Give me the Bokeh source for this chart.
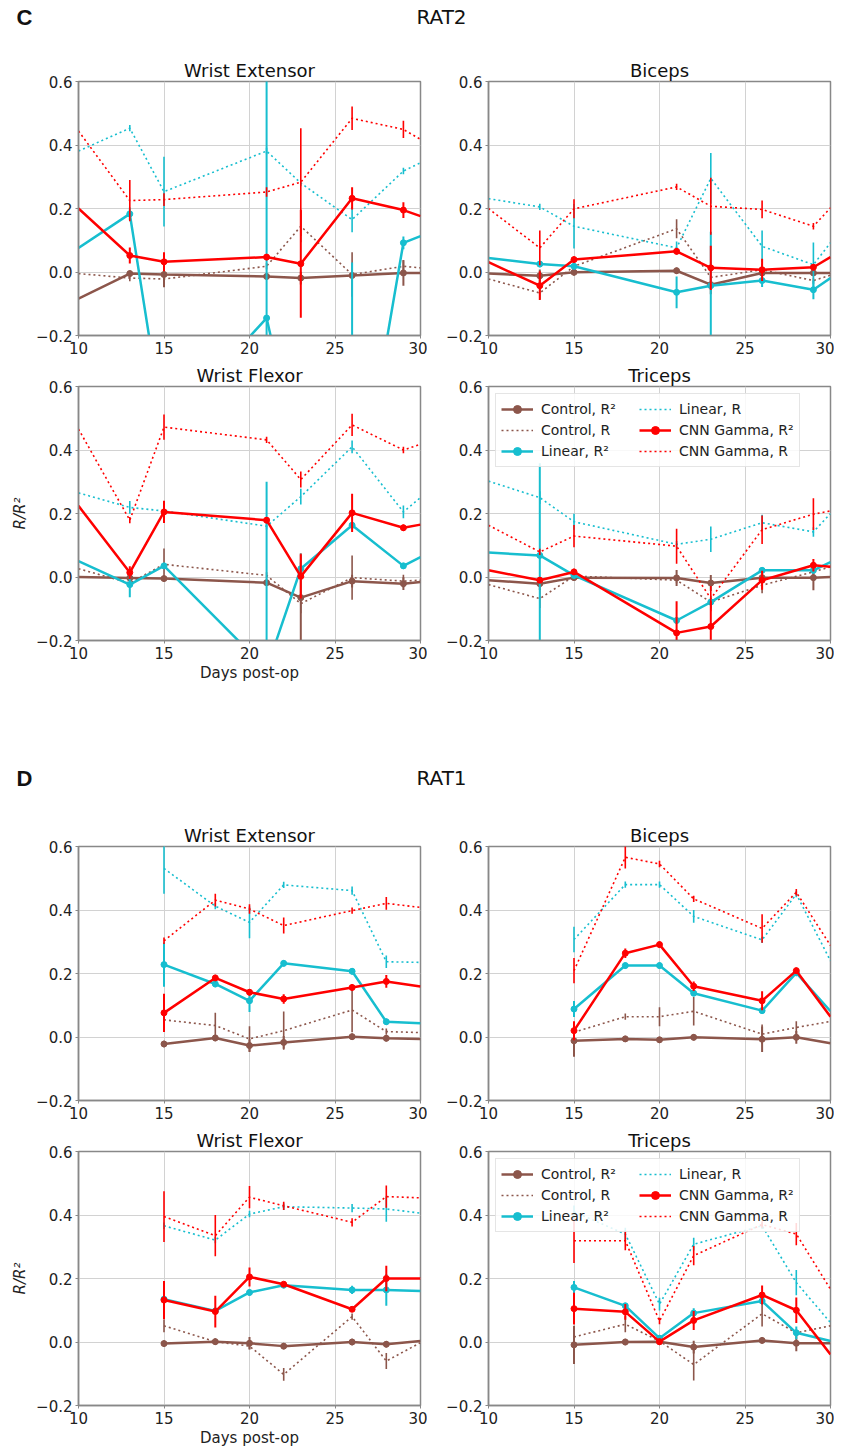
from bokeh.plotting import figure
from bokeh.models import Range1d, FixedTicker, CustomJSTickFormatter, Legend, LegendItem, Label
from bokeh.layouts import column, row
from bokeh.embed import file_html
from bokeh.resources import INLINE

# ---------------- data ----------------
rat2_days = [10, 13, 15, 21, 23, 26, 29, 30]
rat1_days = [15, 18, 20, 22, 26, 28, 30]

series_labels = ["Control, R²", "Control, R", "Linear, R²", "Linear, R", "CNN Gamma, R²", "CNN Gamma, R"]

# RAT2 - Wrist Extensor
rat2_wext_ctrl_r2 = [-0.084, -0.005, -0.008, -0.014, -0.019, -0.011, -0.003, -0.003]
rat2_wext_ctrl_r2_err = [0, 0.01, 0.04, 0.01, 0.02, 0.01, 0.04, 0]
rat2_wext_ctrl_r = [-0.005, -0.019, -0.022, 0.018, 0.144, -0.008, 0.018, 0.013]
rat2_wext_ctrl_r_err = [0, 0.01, 0.01, 0.01, 0.05, 0.07, 0.02, 0]
rat2_wext_lin_r2 = [0.076, 0.183, -0.50, -0.145, -0.62, -0.85, 0.092, 0.113]
rat2_wext_lin_r2_err = [0, 0.02, 0.05, 0.80, 0.10, 0.88, 0.02, 0]
rat2_wext_lin_r = [0.381, 0.453, 0.253, 0.381, 0.28, 0.165, 0.318, 0.344]
rat2_wext_lin_r_err = [0, 0.01, 0.11, 0.01, 0.01, 0.04, 0.01, 0]
rat2_wext_cnn_r2 = [0.2, 0.052, 0.032, 0.047, 0.026, 0.232, 0.195, 0.176]
rat2_wext_cnn_r2_err = [0, 0.025, 0.03, 0.01, 0.17, 0.035, 0.025, 0]
rat2_wext_cnn_r = [0.444, 0.225, 0.228, 0.252, 0.283, 0.484, 0.449, 0.418]
rat2_wext_cnn_r_err = [0, 0.065, 0.02, 0.015, 0.17, 0.037, 0.027, 0]

# RAT2 - Biceps
rat2_bic_ctrl_r2 = [-0.005, -0.012, -0.001, 0.004, -0.04, -0.003, -0.003, -0.003]
rat2_bic_ctrl_r2_err = [0, 0.02, 0.01, 0.01, 0.03, 0.01, 0.01, 0]
rat2_bic_ctrl_r = [-0.022, -0.066, 0.018, 0.136, -0.017, 0.007, -0.027, -0.01]
rat2_bic_ctrl_r_err = [0, 0.02, 0.01, 0.03, 0.02, 0.02, 0.01, 0]
rat2_bic_lin_r2 = [0.044, 0.025, 0.018, -0.064, -0.043, -0.027, -0.056, -0.019]
rat2_bic_lin_r2_err = [0, 0.01, 0.01, 0.05, 0.17, 0.02, 0.03, 0]
rat2_bic_lin_r = [0.231, 0.205, 0.144, 0.076, 0.295, 0.081, 0.023, 0.092]
rat2_bic_lin_r_err = [0, 0.01, 0.07, 0.02, 0.08, 0.05, 0.07, 0]
rat2_bic_cnn_r2 = [0.031, -0.043, 0.039, 0.065, 0.013, 0.007, 0.015, 0.047]
rat2_bic_cnn_r2_err = [0, 0.045, 0.01, 0.01, 0.07, 0.035, 0.01, 0]
rat2_bic_cnn_r = [0.2, 0.076, 0.199, 0.268, 0.207, 0.197, 0.144, 0.202]
rat2_bic_cnn_r_err = [0, 0.055, 0.03, 0.01, 0.09, 0.028, 0.01, 0]

# RAT2 - Wrist Flexor
rat2_wflex_ctrl_r2 = [0.0, -0.003, -0.005, -0.018, -0.065, -0.013, -0.021, -0.016]
rat2_wflex_ctrl_r2_err = [0, 0.01, 0.01, 0.01, 0.14, 0.02, 0.02, 0]
rat2_wflex_ctrl_r = [0.026, -0.019, 0.04, 0.005, -0.084, -0.002, -0.013, -0.01]
rat2_wflex_ctrl_r_err = [0, 0.01, 0.05, 0.01, 0.03, 0.07, 0.02, 0]
rat2_wflex_lin_r2 = [0.05, -0.024, 0.035, -0.29, 0.026, 0.163, 0.035, 0.063]
rat2_wflex_lin_r2_err = [0, 0.04, 0.01, 0.59, 0.02, 0.01, 0.01, 0]
rat2_wflex_lin_r = [0.265, 0.219, 0.208, 0.16, 0.253, 0.41, 0.205, 0.25]
rat2_wflex_lin_r_err = [0, 0.02, 0.01, 0.01, 0.025, 0.02, 0.02, 0]
rat2_wflex_cnn_r2 = [0.224, 0.014, 0.205, 0.179, 0.002, 0.202, 0.155, 0.165]
rat2_wflex_cnn_r2_err = [0, 0.02, 0.035, 0.01, 0.07, 0.06, 0.01, 0]
rat2_wflex_cnn_r = [0.466, 0.179, 0.472, 0.432, 0.307, 0.479, 0.4, 0.418]
rat2_wflex_cnn_r_err = [0, 0.01, 0.04, 0.01, 0.025, 0.035, 0.01, 0]

# RAT2 - Triceps
rat2_tri_ctrl_r2 = [-0.01, -0.021, -0.002, -0.003, -0.019, -0.002, -0.002, 0.0]
rat2_tri_ctrl_r2_err = [0, 0.02, 0.01, 0.025, 0.025, 0.01, 0.04, 0]
rat2_tri_ctrl_r = [-0.024, -0.068, 0.003, -0.01, -0.079, -0.026, 0.016, 0.032]
rat2_tri_ctrl_r_err = [0, 0.03, 0.01, 0.01, 0.02, 0.025, 0.01, 0]
rat2_tri_lin_r2 = [0.077, 0.068, 0.005, -0.137, -0.079, 0.021, 0.021, 0.047]
rat2_tri_lin_r2_err = [0, 0.29, 0.01, 0.01, 0.01, 0.01, 0.01, 0]
rat2_tri_lin_r = [0.302, 0.25, 0.174, 0.103, 0.119, 0.171, 0.142, 0.2]
rat2_tri_lin_r_err = [0, 0.02, 0.025, 0.01, 0.04, 0.025, 0.015, 0]
rat2_tri_cnn_r2 = [0.021, -0.01, 0.016, -0.176, -0.156, -0.01, 0.037, 0.032]
rat2_tri_cnn_r2_err = [0, 0.01, 0.01, 0.1, 0.08, 0.03, 0.02, 0]
rat2_tri_cnn_r = [0.163, 0.079, 0.129, 0.097, -0.068, 0.149, 0.198, 0.208]
rat2_tri_cnn_r_err = [0, 0.01, 0.035, 0.055, 0.04, 0.045, 0.05, 0]

# RAT1 - Wrist Extensor
rat1_wext_ctrl_r2 = [-0.022, -0.003, -0.027, -0.017, 0.001, -0.004, -0.006]
rat1_wext_ctrl_r2_err = [0.01, 0.01, 0.02, 0.02, 0.01, 0.01, 0]
rat1_wext_ctrl_r = [0.054, 0.036, -0.006, 0.02, 0.085, 0.017, 0.014]
rat1_wext_ctrl_r_err = [0.02, 0.04, 0.04, 0.06, 0.07, 0.01, 0]
rat1_wext_lin_r2 = [0.228, 0.167, 0.114, 0.232, 0.207, 0.048, 0.043]
rat1_wext_lin_r2_err = [0.07, 0.01, 0.035, 0.01, 0.01, 0.01, 0]
rat1_wext_lin_r = [0.531, 0.412, 0.361, 0.479, 0.461, 0.237, 0.235]
rat1_wext_lin_r_err = [0.08, 0.01, 0.05, 0.01, 0.013, 0.02, 0]
rat1_wext_cnn_r2 = [0.076, 0.186, 0.141, 0.12, 0.156, 0.175, 0.159]
rat1_wext_cnn_r2_err = [0.06, 0.01, 0.01, 0.015, 0.01, 0.02, 0]
rat1_wext_cnn_r = [0.303, 0.431, 0.403, 0.351, 0.398, 0.421, 0.408]
rat1_wext_cnn_r_err = [0.01, 0.02, 0.015, 0.025, 0.01, 0.02, 0]

# RAT1 - Biceps
rat1_bic_ctrl_r2 = [-0.012, -0.006, -0.009, -0.001, -0.007, -0.001, -0.02]
rat1_bic_ctrl_r2_err = [0.05, 0.01, 0.01, 0.01, 0.04, 0.02, 0]
rat1_bic_ctrl_r = [0.015, 0.064, 0.064, 0.081, 0.009, 0.03, 0.049]
rat1_bic_ctrl_r_err = [0.01, 0.01, 0.03, 0.045, 0.03, 0.02, 0]
rat1_bic_lin_r2 = [0.088, 0.225, 0.225, 0.138, 0.083, 0.202, 0.081]
rat1_bic_lin_r2_err = [0.025, 0.01, 0.01, 0.01, 0.01, 0.01, 0]
rat1_bic_lin_r = [0.307, 0.48, 0.48, 0.38, 0.306, 0.45, 0.24]
rat1_bic_lin_r_err = [0.04, 0.01, 0.01, 0.02, 0.01, 0.01, 0]
rat1_bic_cnn_r2 = [0.02, 0.264, 0.291, 0.16, 0.114, 0.209, 0.064]
rat1_bic_cnn_r2_err = [0.03, 0.015, 0.01, 0.015, 0.03, 0.01, 0]
rat1_bic_cnn_r = [0.209, 0.566, 0.545, 0.435, 0.342, 0.456, 0.288]
rat1_bic_cnn_r_err = [0.04, 0.035, 0.01, 0.01, 0.045, 0.01, 0]

# RAT1 - Wrist Flexor
rat1_wflex_ctrl_r2 = [-0.005, 0.001, -0.004, -0.013, 0.0, -0.007, 0.003]
rat1_wflex_ctrl_r2_err = [0.01, 0.01, 0.02, 0.01, 0.01, 0.01, 0]
rat1_wflex_ctrl_r = [0.051, 0.001, -0.013, -0.102, 0.08, -0.06, -0.002]
rat1_wflex_ctrl_r_err = [0.02, 0.01, 0.01, 0.02, 0.01, 0.025, 0]
rat1_wflex_lin_r2 = [0.135, 0.098, 0.156, 0.179, 0.164, 0.164, 0.161]
rat1_wflex_lin_r2_err = [0.01, 0.01, 0.01, 0.01, 0.013, 0.05, 0]
rat1_wflex_lin_r = [0.366, 0.321, 0.403, 0.426, 0.422, 0.419, 0.406]
rat1_wflex_lin_r_err = [0.01, 0.01, 0.01, 0.01, 0.013, 0.04, 0]
rat1_wflex_cnn_r2 = [0.132, 0.096, 0.205, 0.182, 0.103, 0.2, 0.2]
rat1_wflex_cnn_r2_err = [0.06, 0.05, 0.03, 0.005, 0.005, 0.04, 0]
rat1_wflex_cnn_r = [0.395, 0.335, 0.456, 0.429, 0.377, 0.458, 0.454]
rat1_wflex_cnn_r_err = [0.08, 0.065, 0.035, 0.013, 0.013, 0.035, 0]

# RAT1 - Triceps
rat1_tri_ctrl_r2 = [-0.009, 0.0, 0.001, -0.016, 0.005, -0.004, -0.004]
rat1_tri_ctrl_r2_err = [0.06, 0.01, 0.01, 0.02, 0.01, 0.025, 0]
rat1_tri_ctrl_r = [0.016, 0.056, 0.003, -0.071, 0.089, 0.029, 0.051]
rat1_tri_ctrl_r_err = [0.01, 0.025, 0.01, 0.05, 0.04, 0.01, 0]
rat1_tri_lin_r2 = [0.172, 0.114, 0.012, 0.091, 0.129, 0.029, 0.003]
rat1_tri_lin_r2_err = [0.02, 0.01, 0.01, 0.015, 0.01, 0.02, 0]
rat1_tri_lin_r = [0.41, 0.34, 0.119, 0.308, 0.366, 0.187, 0.061]
rat1_tri_lin_r_err = [0.02, 0.02, 0.02, 0.02, 0.01, 0.04, 0]
rat1_tri_cnn_r2 = [0.105, 0.095, 0.001, 0.068, 0.148, 0.1, -0.039]
rat1_tri_cnn_r2_err = [0.05, 0.025, 0.01, 0.03, 0.03, 0.04, 0]
rat1_tri_cnn_r = [0.319, 0.319, 0.066, 0.272, 0.37, 0.34, 0.166]
rat1_tri_cnn_r_err = [0.07, 0.03, 0.01, 0.03, 0.01, 0.035, 0]

x_ticks = [10, 15, 20, 25, 30]
y_ticks = [-0.2, 0.0, 0.2, 0.4, 0.6]

# ---------------- styling ----------------
FONT = "DejaVu Sans"
BROWN = "#8c564b"
CYAN = "#17becf"
RED = "#ff0000"
COLORS = [BROWN, BROWN, CYAN, CYAN, RED, RED]
SOLID = [True, False, True, False, True, False]

FW, FH = 342, 254
LB_L, RB_L, LB_R, RB_R = 78, 7, 61, 4
TOTAL_W = LB_L + FW + RB_L + LB_R + FW + RB_R


def panel(title, days, values, errors, left, top_b, bot_b, xlabel=False, ylabel=False, legend=False):
    p = figure(frame_width=FW, frame_height=FH, x_range=Range1d(10, 30), y_range=Range1d(-0.2, 0.6),
               output_backend="svg", toolbar_location=None, tools="",
               min_border_left=LB_L if left else LB_R, min_border_right=RB_L if left else RB_R,
               min_border_top=top_b, min_border_bottom=bot_b,
               background_fill_color="white", border_fill_color="white")
    p.title.text = title
    p.title.align = "center"
    p.title.text_font = FONT
    p.title.text_font_size = "18px"
    p.title.text_font_style = "normal"
    p.title.text_color = "#111111"
    p.title.standoff = 2
    p.outline_line_color = "#888888"
    p.outline_line_width = 1.5
    p.xaxis.ticker = FixedTicker(ticks=x_ticks)
    p.yaxis.ticker = FixedTicker(ticks=y_ticks)
    p.yaxis.formatter = CustomJSTickFormatter(code="return tick.toFixed(1).replace('-', '\\u2212');")
    for ax in (p.xaxis[0], p.yaxis[0]):
        ax.axis_line_color = "#888888"
        ax.axis_line_width = 1.5
        ax.major_tick_line_color = "#888888"
        ax.major_tick_out = 3
        ax.major_tick_in = 0
        ax.minor_tick_line_color = None
        ax.major_label_text_font = FONT
        ax.major_label_text_font_size = "15px"
        ax.major_label_text_color = "#222222"
        ax.major_label_standoff = 3
        ax.axis_label_text_font = FONT
        ax.axis_label_text_font_size = "15px"
        ax.axis_label_text_color = "#222222"
    if ylabel:
        p.yaxis.axis_label = "R/R²"
        p.yaxis.axis_label_text_font_style = "italic"
        p.yaxis.axis_label_standoff = 4
    if xlabel:
        p.xaxis.axis_label = "Days post-op"
        p.xaxis.axis_label_text_font_style = "normal"
        p.xaxis.axis_label_standoff = 2
    p.grid.grid_line_color = "#d2d2d2"
    p.grid.grid_line_width = 1

    inner = [i for i, d in enumerate(days) if 10 < d < 30]
    items = []
    for k in range(6):
        vals, errs, col, solid = values[k], errors[k], COLORS[k], SOLID[k]
        lw = 2.5 if solid else 1.6
        dash = "solid" if solid else "2 3"
        ln = p.line(days, vals, line_color=col, line_width=lw, line_dash=dash)
        ex = [d for d, e in zip(days, errs) if e > 0]
        lo = [v - e for v, e in zip(vals, errs) if e > 0]
        hi = [v + e for v, e in zip(vals, errs) if e > 0]
        p.segment(ex, lo, ex, hi, line_color=col, line_width=2.0 if solid else 1.6)
        rends = [ln]
        if solid:
            mk = p.scatter([days[i] for i in inner], [vals[i] for i in inner], size=6,
                           marker="circle", fill_color=col, line_color=col)
            rends.append(mk)
        icon = p.scatter(x=[], y=[], marker="cross", size=12, line_color=col,
                         line_width=2.0 if solid else 1.6)
        rends.append(icon)
        items.append(LegendItem(label=series_labels[k], renderers=rends))
    if legend:
        lg = Legend(items=items, location="top_left", orientation="vertical", nrows=3,
                    label_text_font=FONT, label_text_font_size="14px", label_text_color="#222222",
                    glyph_width=32, glyph_height=20, label_height=20, label_width=97, spacing=1,
                    padding=5, margin=7, label_standoff=8,
                    background_fill_alpha=0.85, border_line_color="#cccccc", border_line_width=1)
        p.add_layout(lg)
    return p


def header(letter, name, h, y_from_top):
    p = figure(frame_width=TOTAL_W, frame_height=h, x_range=Range1d(0, TOTAL_W), y_range=Range1d(0, h),
               output_backend="svg", toolbar_location=None, tools="", min_border=0,
               x_axis_location=None, y_axis_location=None)
    p.grid.visible = False
    p.outline_line_color = None
    p.add_layout(Label(x=24, y=h - y_from_top, text=letter, text_font="Liberation Sans",
                       text_font_style="bold", text_font_size="22px", text_align="center",
                       text_baseline="middle", text_color="#111111"))
    p.add_layout(Label(x=441, y=h - y_from_top, text=name, text_font=FONT,
                       text_font_size="20px", text_align="center", text_baseline="middle",
                       text_color="#111111"))
    return p


def vals(prefix):
    g = globals()
    keys = ["ctrl_r2", "ctrl_r", "lin_r2", "lin_r", "cnn_r2", "cnn_r"]
    return [g[f"{prefix}_{k}"] for k in keys], [g[f"{prefix}_{k}_err"] for k in keys]


v, e = vals("rat2_wext")
p1 = panel("Wrist Extensor", rat2_days, v, e, True, 30, 22)
v, e = vals("rat2_bic")
p2 = panel("Biceps", rat2_days, v, e, False, 30, 22)
v, e = vals("rat2_wflex")
p3 = panel("Wrist Flexor", rat2_days, v, e, True, 29, 45, xlabel=True, ylabel=True)
v, e = vals("rat2_tri")
p4 = panel("Triceps", rat2_days, v, e, False, 29, 45, legend=True)

v, e = vals("rat1_wext")
q1 = panel("Wrist Extensor", rat1_days, v, e, True, 30, 22)
v, e = vals("rat1_bic")
q2 = panel("Biceps", rat1_days, v, e, False, 30, 22)
v, e = vals("rat1_wflex")
q3 = panel("Wrist Flexor", rat1_days, v, e, True, 29, 42, xlabel=True, ylabel=True)
v, e = vals("rat1_tri")
q4 = panel("Triceps", rat1_days, v, e, False, 29, 42, legend=True)

hC = header("C", "RAT2", 51, 16.5)
hD = header("D", "RAT1", 131, 92.5)

layout = column(hC, row(p1, p2), row(p3, p4), hD, row(q1, q2), row(q3, q4))

open("out.html", "w").write(file_html(layout, INLINE))
